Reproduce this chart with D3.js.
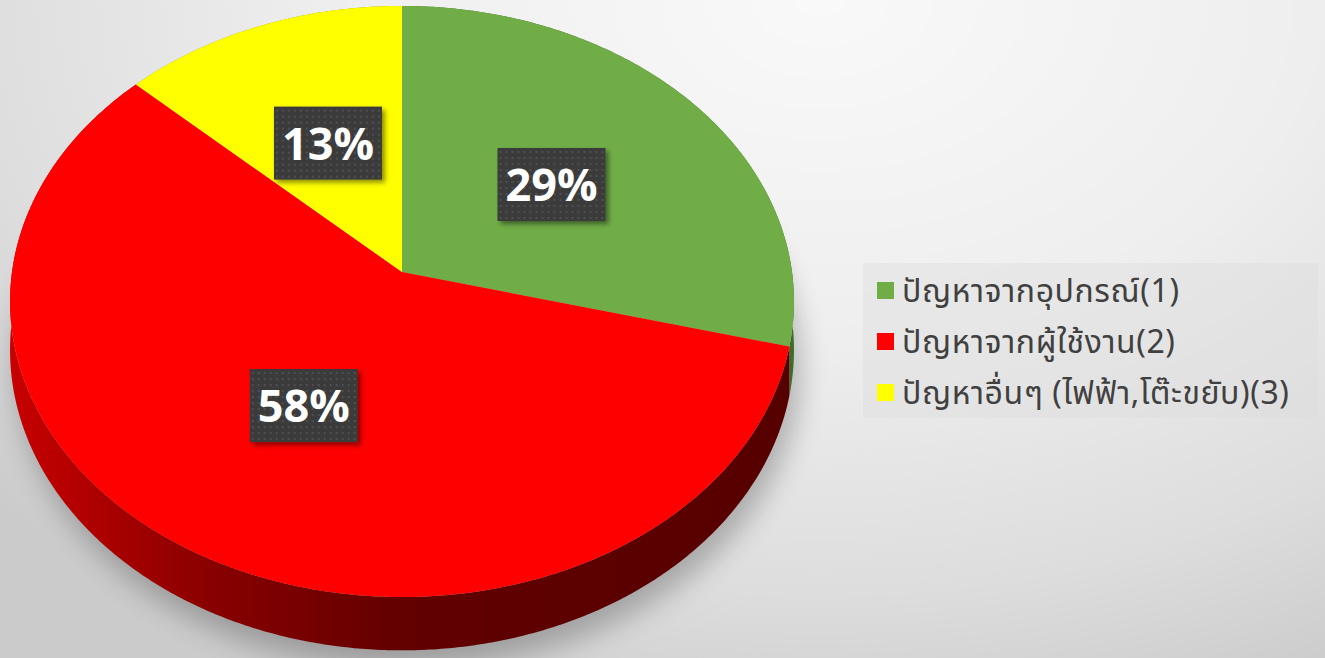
<!DOCTYPE html>
<html>
<head>
<meta charset="utf-8">
<script src="https://cdn.jsdelivr.net/npm/d3@7"></script>
<style>
  body { margin: 0; overflow: hidden; }
  svg { display: block; }
</style>
</head>
<body>
<div id="chart-area"></div>
<script>
// data
const categories = ["ปัญหาจากอุปกรณ์(1)", "ปัญหาจากผู้ใช้งาน(2)", "ปัญหาอื่นๆ (ไฟฟ้า,โต๊ะขยับ)(3)"]
const values = [29, 58, 13]
const topColors = ["#70ad47", "#ff0000", "#ffff00"]
const sideColors = ["#3f6b26", "#7a0000", "#9a9a00"]

const width = 1325
const height = 658

// perspective of the pie disc
const center = { x: 402, y: 272 }
const radiusX = 390
const radiusY = 292.6
const tilt = 0.0998
const depth = 48

const svg = d3.select("#chart-area").append("svg")
  .attr("width", width)
  .attr("height", height)

const defs = svg.append("defs")

const bg = defs.append("radialGradient")
  .attr("id", "bg")
  .attr("gradientUnits", "userSpaceOnUse")
  .attr("cx", 0).attr("cy", 0).attr("r", 1)
  .attr("gradientTransform", "translate(820, 0) scale(1100, 760)")
bg.append("stop").attr("offset", "0").attr("stop-color", "#f9f9f9")
bg.append("stop").attr("offset", "0.45").attr("stop-color", "#eeeeee")
bg.append("stop").attr("offset", "0.78").attr("stop-color", "#dddddd")
bg.append("stop").attr("offset", "1").attr("stop-color", "#cbcbcb")

const side = defs.append("linearGradient")
  .attr("id", "side-red")
  .attr("gradientUnits", "userSpaceOnUse")
  .attr("x1", 10).attr("x2", 795).attr("y1", 0).attr("y2", 0)
side.append("stop").attr("offset", "0").attr("stop-color", "#c80000")
side.append("stop").attr("offset", "0.25").attr("stop-color", "#8a0000")
side.append("stop").attr("offset", "0.5").attr("stop-color", "#620000")
side.append("stop").attr("offset", "1").attr("stop-color", "#560000")

const blur = defs.append("filter").attr("id", "blur")
  .attr("x", "-20%").attr("y", "-20%").attr("width", "140%").attr("height", "140%")
blur.append("feGaussianBlur").attr("stdDeviation", 14)

const boxShadow = defs.append("filter").attr("id", "box-shadow")
  .attr("x", "-20%").attr("y", "-20%").attr("width", "150%").attr("height", "150%")
boxShadow.append("feDropShadow")
  .attr("dx", 3).attr("dy", 3).attr("stdDeviation", 2.5)
  .attr("flood-color", "#000").attr("flood-opacity", 0.45)

const dots = defs.append("pattern").attr("id", "dots")
  .attr("patternUnits", "userSpaceOnUse")
  .attr("width", 6).attr("height", 6)
dots.append("rect").attr("width", 6).attr("height", 6).attr("fill", "#3b3b3b")
dots.append("rect").attr("x", 2).attr("y", 2).attr("width", 2).attr("height", 2).attr("fill", "#4f4f4f")

svg.append("rect")
  .attr("width", width)
  .attr("height", height)
  .attr("fill", "url(#bg)")

// project a point of the unit disc (angle clockwise from top, radius 0..1)
function project(angle, r, drop = 0) {
  const u = r * Math.sin(angle)
  const v = r * Math.cos(angle)
  const w = 1 + tilt * v
  return [center.x + radiusX * u / w, center.y - radiusY * v / w + drop / w]
}

function arcPoints(a0, a1, drop = 0) {
  const n = Math.max(2, Math.ceil((a1 - a0) / (Math.PI / 360)))
  return d3.range(n + 1).map(i => project(a0 + (a1 - a0) * i / n, 1, drop))
}

const pie = d3.pie().sort(null).value(d => d)
const slices = pie(values)
const line = d3.line()

// soft shadow under the disc
svg.append("path")
  .attr("d", line(arcPoints(0, 2 * Math.PI, depth + 10)) + "Z")
  .attr("transform", "translate(6, 6)")
  .attr("fill", "#000")
  .attr("opacity", 0.25)
  .attr("filter", "url(#blur)")

const g = svg.append("g")

// side walls
g.selectAll(".side")
  .data(slices)
  .enter().append("path")
  .attr("class", "side")
  .attr("d", d => {
    const topEdge = arcPoints(d.startAngle, d.endAngle)
    const bottomEdge = arcPoints(d.startAngle, d.endAngle, depth).reverse()
    return line(topEdge.concat(bottomEdge)) + "Z"
  })
  .attr("fill", (d, i) => i === 1 ? "url(#side-red)" : sideColors[i])

// top faces
g.selectAll(".top")
  .data(slices)
  .enter().append("path")
  .attr("class", "top")
  .attr("d", d => line([project(0, 0)].concat(arcPoints(d.startAngle, d.endAngle))) + "Z")
  .attr("fill", (d, i) => topColors[i])

// percent labels
const total = d3.sum(values)
const labels = g.selectAll(".label")
  .data(slices)
  .enter().append("g")
  .attr("class", "label")
  .attr("transform", d => {
    const p = project((d.startAngle + d.endAngle) / 2, 0.5)
    return `translate(${p[0]}, ${p[1]})`
  })

labels.append("rect")
  .attr("x", -54).attr("y", -37)
  .attr("width", 108).attr("height", 73)
  .attr("fill", "url(#dots)")
  .attr("filter", "url(#box-shadow)")

labels.append("text")
  .attr("y", 16)
  .attr("text-anchor", "middle")
  .attr("font-family", "'Open Sans', 'DejaVu Sans', sans-serif")
  .attr("font-weight", "bold")
  .attr("font-size", "45px")
  .attr("fill", "#fff")
  .text(d => Math.round(d.value / total * 100) + "%")

// legend
const legend = svg.append("g")
  .attr("transform", "translate(863, 263)")

legend.append("rect")
  .attr("width", 455)
  .attr("height", 155)
  .attr("fill", "#dcdcdc")
  .attr("opacity", 0.4)

const items = legend.selectAll(".item")
  .data(categories)
  .enter().append("g")
  .attr("class", "item")
  .attr("transform", (d, i) => `translate(14, ${28 + i * 51})`)

items.append("rect")
  .attr("x", 0).attr("y", -9)
  .attr("width", 17).attr("height", 17)
  .attr("fill", (d, i) => topColors[i])

items.append("text")
  .attr("x", 25)
  .attr("y", 11)
  .attr("font-family", "Tahoma, 'Noto Sans Thai', Loma, Garuda, 'DejaVu Sans', sans-serif")
  .attr("font-size", "32px")
  .attr("letter-spacing", "0.6px")
  .attr("fill", "#404040")
  .text(d => d)
</script>
</body>
</html>
